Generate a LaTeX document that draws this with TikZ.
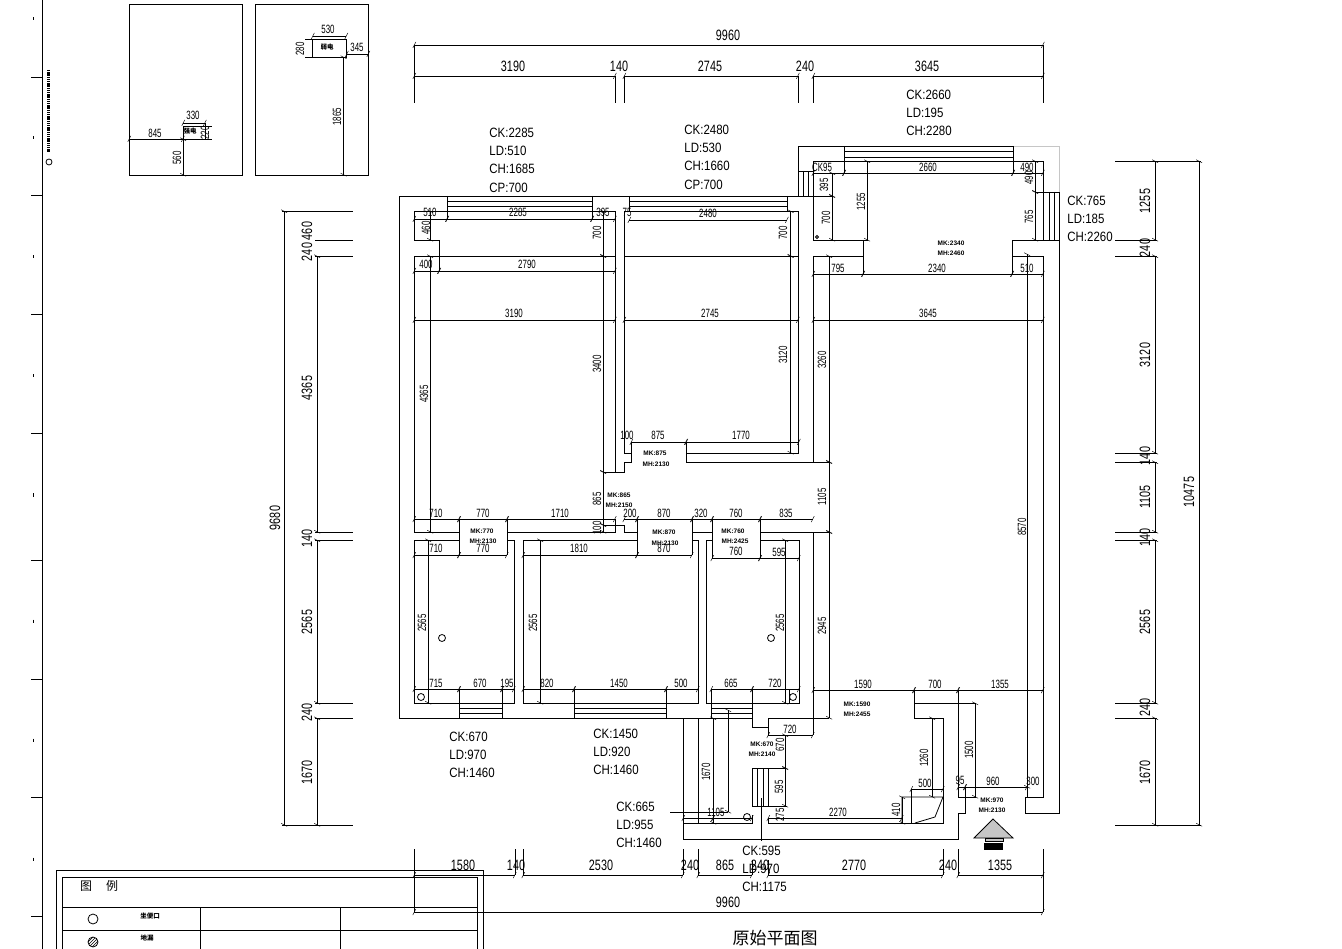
\documentclass[tikz,border=0pt]{standalone}
\usepackage{fontspec}
\setmainfont{Liberation Sans}
\newfontfamily\cadL[FakeStretch=.72]{Liberation Sans}
\newfontfamily\cadS[FakeStretch=.66]{Liberation Sans}
\newfontfamily\cadW[FakeStretch=.85]{Liberation Sans}
\newfontfamily\cjkfont{Noto Sans CJK SC}
\usetikzlibrary{arrows.meta, patterns}
\newcommand{\hdim}[2]{\foreach \xa/\xb in {#2} \draw[dimn] (\xa,#1) -- (\xb,#1);}
\newcommand{\vdim}[2]{\foreach \ya/\yb in {#2} \draw[dimn] (#1,\ya) -- (#1,\yb);}
\begin{document}
\begin{tikzpicture}[
    x=1pt, y=-1pt,
    line width=.8pt,
dimn/.style = {line width=.7pt, {Bar[width=6pt,slant=.5,line width=.5pt]}-{Bar[width=6pt,slant=.5,line width=.5pt]}},
ext/.style = {line width=.7pt},
txtL/.style = {font=\cadL\fontsize{15}{15}\selectfont, inner sep=0pt},
txtS/.style = {font=\cadS\fontsize{12}{12}\selectfont, inner sep=0pt},
txtM/.style = {font=\bfseries\fontsize{6.5}{6.5}\selectfont, inner sep=0pt},
txtW/.style = {font=\cadW\fontsize{13.5}{18.3}\selectfont, inner sep=0pt, align=left, anchor=west},
cjk/.style = {font=\cjkfont\bfseries\fontsize{6.5}{6.5}\selectfont, inner sep=0pt}
                        ]
\useasboundingbox (0,0) rectangle (1342,949);
\fill[white] (0,0) rectangle (1342,949);
% sheet edge
\draw (42,0) -- (42,949);
\foreach \ty in {77,195,314,433,560,679,797,916} \draw (31,\ty) -- (42,\ty);
\foreach \ty in {19,138,257,376,495,621,740,859} \draw (33,\ty-1.5) -- (33,\ty+1.5);
\draw[line width=3pt, dash pattern=on 1.5pt off .7pt] (48,70) -- (48,152);
\draw (49,162) circle (3);
% small elevations
\draw (129,4) rectangle (242.5,175);
\draw (255.5,4) rectangle (368.5,175);
\hdim{139}{129/183}
\vdim{183}{139/175}
\hdim{123}{183/205}
\draw (183,139) -- (183,126) -- (212,126) (183,139) -- (212,139) (205,123) -- (205,139);
\draw (312.5,39) rectangle (346.5,57);
\hdim{36}{312.5/346.5}
\hdim{54}{346.5/368.5}
\vdim{343.5}{57/175}
\draw (305,39) -- (312,39) (305,57) -- (312,57);
\node[cjk] (el1) at (190,131) {强电};
\node[cjk] (el2) at (327,47) {弱电};
% walls
\draw (813,196) -- (399,196) -- (399,718) -- (752,718);
\draw (1013,146) -- (798,146) -- (798,196);
\draw[gray!45] (1013,146) -- (1059,146) -- (1059,192);
\draw (1035,192) -- (1059,192) -- (1059,813) -- (1025,813) -- (1025,797) -- (1043,797) -- (1043,256)
    -- (1012,256) -- (1012,240) -- (1059,240);
\draw (1043,240) -- (1043,161) -- (813,161) -- (813,240) -- (868,240);
\draw (863,240) -- (863,256) -- (813,256) -- (813,462) -- (686,462) -- (686,453) -- (798,453)
    -- (798,211) -- (624,211) -- (624,453) -- (631,453) -- (631,462) -- (624,462) -- (624,472)
    -- (615,472) -- (615,211) -- (414,211) -- (414,240) -- (439,240) -- (439,256) -- (414,256)
    -- (414,532) -- (459,532) -- (459,540) -- (414,540) -- (414,703) -- (514,703) -- (514,540)
    -- (507,540) -- (507,532) -- (615,532) -- (615,519);
\draw (615,525) -- (624,525) -- (624,532) -- (637,532) -- (637,540) -- (523,540) -- (523,703)
    -- (698,703) -- (698,540) -- (692,540) -- (692,532) -- (712,532) -- (712,540) -- (706,540)
    -- (706,703) -- (799,703) -- (799,540) -- (760,540) -- (760,532) -- (813,532) -- (813,735);
\draw (813,718) -- (768,718) -- (768,735);
\draw (752,703) -- (752,727) -- (768,727);
\draw (683,718) -- (683,839) -- (958,839) -- (958,813) -- (965,813) -- (965,787);
\draw (698,718) -- (698,823) (683,823) -- (752,823) -- (752,815);
\draw (752,806) -- (752,768) -- (768,768) -- (768,806) -- (752,806);
\draw (768,818) -- (768,823) -- (943,823) -- (943,718) -- (914,718) -- (914,703) -- (975,703) -- (975,797) -- (958,797) -- (958,690);
\draw (414,256) -- (615,256) (624,256) -- (798,256);
% windows
\foreach \xa/\xb in {447/592,629/787} \draw (\xa,196) -- (\xa,211) (\xb,196) -- (\xb,211)
    (\xa,201) -- (\xb,201) (\xa,206) -- (\xb,206);
\foreach \xa/\xb in {459/502,574/666,711/752} \draw (\xa,703) -- (\xa,718) (\xb,703) -- (\xb,718)
    (\xa,708) -- (\xb,708) (\xa,713) -- (\xb,713);
\draw (844,146) -- (844,161) (1013,146) -- (1013,161) (844,151) -- (1013,151) (844,157) -- (1013,157);
\draw (798,171) -- (813,171) (803,171) -- (803,196) (808,171) -- (808,196);
\draw (1035,192) -- (1035,240) (1049,192) -- (1049,240) (1054,192) -- (1054,240);
\draw (757,768) -- (757,806) (763,768) -- (763,806);
% pipes and fittings
\foreach \px/\py/\rr in {442/638/3.5,771/638/3.5,421/697/3.5,793/697/3.5,747/817/3.5,817/237/1.5} \draw (\px,\py) circle (\rr);
\draw (414,689) -- (414,703) (789,689) -- (789,703);
\draw (902,823) -- (902,797) -- (943,797) -- (935,817) -- (915,823);
\draw (911,790) -- (911,823);
% dimensions, top and bottom
\hdim{45}{414/1043}
\hdim{76}{414/615,624/798,813/1043}
\foreach \px in {414,1043} \draw[ext] (\px,45) -- (\px,103);
\foreach \px in {615,624,798,813} \draw[ext] (\px,76) -- (\px,103);
\hdim{875}{414/515,523/683,698/752,768/943,958/1043}
\hdim{912}{414/1043}
\foreach \px in {414,1043} \draw[ext] (\px,849) -- (\px,912);
\foreach \px in {515,523,683,698,943,958} \draw[ext] (\px,849) -- (\px,875);
\draw[ext] (752,860) -- (752,875) (768,860) -- (768,875);
% dimensions, left and right
\vdim{284}{211/825}
\vdim{317}{256/532,540/703,718/825}
\foreach \py in {211,825} \draw[ext] (282,\py) -- (353,\py);
\foreach \py in {240,256,532,540,703,718} \draw[ext] (315,\py) -- (353,\py);
\vdim{1199}{161/825}
\vdim{1155}{161/240,256/453,462/532,540/703,718/825}
\foreach \py in {161} \draw[ext] (1115,\py) -- (1201,\py);
\draw[ext] (1115,825) -- (1201,825);
\foreach \py in {240,256,453,462,532,540,703,718} \draw[ext] (1115,\py) -- (1157,\py);
% dimensions, inside the rooms
\hdim{219}{414/447,447/592,592/615}
\hdim{220}{629/787}
\vdim{430}{211/240,256/532}
\hdim{271}{414/439,439/615}
\draw[ext] (439,256) -- (439,271) (447,211) -- (447,219) (592,211) -- (592,219);
\hdim{320}{414/615,624/798,813/1043}
\vdim{603}{211/256,256/472,472/525,525/532}
\vdim{790.5}{211/256,256/453}
\draw[ext] (603,472) -- (615,472) (603,525) -- (615,525);
\hdim{442}{631/686,686/799}
\draw[ext] (631,442) -- (631,453) (686,442) -- (686,453);
\hdim{519}{414/459,459/507,507/615,624/637,637/692,692/712,712/760,760/813}
\hdim{555}{414/459,459/507,523/637,637/692}
\hdim{558}{712/760,760/799}
\foreach \px/\yb in {459/555,507/555,637/555,692/555,712/558,760/558} \draw[ext] (\px,519) -- (\px,\yb);
\vdim{428}{540/703}
\vdim{540}{540/703}
\vdim{785}{540/703}
\hdim{689}{414/459,459/502,502/514,523/574,574/666,666/698,711/752,752/799}
\foreach \px in {459,502,574,666,711,752} \draw[ext] (\px,689) -- (\px,703);
\vdim{829}{256/462,462/532,532/718}
\draw[ext] (813,462) -- (829,462) (813,532) -- (829,532) (813,718) -- (829,718) (813,256) -- (829,256);
% dimensions, balcony
\hdim{173}{813/844,844/1013,1013/1043}
\draw[ext] (844,161) -- (844,173) (1013,161) -- (1013,173);
\vdim{832}{173/196,196/240}
\draw[ext] (813,196) -- (833,196);
\vdim{867}{161/240}
\vdim{1035}{161/192,192/240}
\hdim{274}{813/863,863/1012,1012/1043}
\draw[ext] (863,256) -- (863,274) (1012,256) -- (1012,274);
\vdim{1027}{254/787}
% dimensions, kitchen side
\hdim{735}{768/813}
\vdim{785}{735/768,768/806}
\draw[ext] (768,768) -- (785,768) (768,806) -- (787,806);
\hdim{690}{813/914,914/958,958/1043}
\draw[ext] (914,690) -- (914,703);
\vdim{932}{718/797}
\vdim{975}{703/797}
\hdim{789}{911/943}
\vdim{902}{797/823}
\hdim{818}{683/713,713/752,768/902}
\vdim{713}{718/823}
\vdim{728}{710/812}
\draw[ext] (670,812) -- (728,812);
\hdim{787}{958/965,965/1027}
\draw[ext] (1027,787) -- (1027,797);
% leader of the kitchen window
\draw[ext] (761,798) -- (761,841);
% entrance mark
\draw[fill=gray!45] (993,819) -- (974,838) -- (1013,838) -- cycle;
\draw[fill=gray!45] (985,838) rectangle (1003,841);
\fill[black] (984,843) rectangle (1003,850);
% legend
\draw (56,870) -- (483,870) (56,870) -- (56,949) (483,870) -- (483,949);
\draw (62,949) -- (62,877) -- (477.5,877) -- (477.5,949);
\draw (62,907) -- (477.5,907) (62,930) -- (477.5,930);
\draw (200,907) -- (200,949) (340,907) -- (340,949);
\draw (93,919) circle (5);
\draw[pattern=north east lines] (93,942) circle (5);
\node[cjk, font=\cjkfont\fontsize{12}{12}\selectfont] (lg1) at (86,886) {图};
\node[cjk, font=\cjkfont\fontsize{12}{12}\selectfont] (lg2) at (112,886) {例};
\node[cjk] (lg3) at (150,916) {坐便口};
\node[cjk] (lg4) at (147,938) {地漏};
\node[inner sep=0pt, font=\cjkfont\fontsize{17}{17}\selectfont] (title) at (775,938) {原始平面图};
% large dimension texts
\foreach \px/\py/\tx in {728/35/9960,513/66/3190,619/66/140,710/66/2745,805/66/240,927/66/3645,
    463/865/1580,516/865/140,601/865/2530,690/865/240,725/865/865,760/865/240,854/865/2770,948/865/240,1000/865/1355,728/902/9960}
    \node[txtL] at (\px,\py) {\tx};
\foreach \px/\py/\tx in {307/231/460,307/252/240,307/388/4365,307/538/140,307/622/2565,307/712/240,307/772/1670,275/518/9680,
    1145/201/1255,1145/248/240,1145/355/3120,1145/456/140,1145/497/1105,1145/537/140,1145/622/2565,1145/707/240,1145/772/1670,1189/492/10475}
    \node[txtL, rotate=90] at (\px,\py) {\tx};
% small dimension texts
\foreach \px/\py/\tx in {155/133/845,193/115/330,328/29/530,357/47/345,
    430/212/510,518/212/2285,603/212/395,627/212/75,708/213/2480,426/264/400,527/264/2790,
    514/313/3190,710/313/2745,928/313/3645,627/435/100,658/435/875,741/435/1770,
    436/513/710,483/513/770,560/513/1710,630/513/200,664/513/870,701/513/320,736/513/760,786/513/835,
    436/548/710,483/548/770,579/548/1810,664/548/870,736/551/760,779/552/595,
    436/683/715,480/683/670,507/683/195,547/683/820,619/683/1450,681/683/500,731/683/665,775/683/720,
    790/729/720,716/812/1105,838/812/2270,925/783/500,960/780/95,993/781/960,1033/781/300,
    863/684/1590,935/684/700,1000/684/1355,
    822/167/CK95,928/167/2660,1027/167/490,838/268/795,937/268/2340,1027/268/510}
    \node[txtS] at (\px,\py) {\tx};
\foreach \px/\py/\tx in {177/158/560,205/133/220,300/49/280,337/117/1865,
    426/228/460,597/233/700,783/233/700,597/364/3400,424/394/4365,783/355/3120,822/360/3260,822/497/1105,822/626/2945,1022/527/8570,
    597/499/865,597/528/100,422/623/2565,533/623/2565,780/623/2565,780/745/670,706/772/1670,779/787/595,780/815/275,
    924/758/1260,896/810/410,969/750/1500,
    824/185/395,826/218/700,861/202/1255,1029/178/490,1029/217/765}
    \node[txtS, rotate=90] at (\px,\py) {\tx};
% door sizes
\foreach \px/\py/\tx in {951/243/MK:2340,951/253/MH:2460,655/453/MK:875,656/464/MH:2130,619/495/MK:865,619/505/MH:2150,
    482/531/MK:770,483/541/MH:2130,664/532/MK:870,665/543/MH:2130,733/531/MK:760,735/541/MH:2425,
    857/704/MK:1590,857/714/MH:2455,762/744/MK:670,762/754/MH:2140,992/800/MK:970,992/810/MH:2130}
    \node[txtM] at (\px,\py) {\tx};
% window sizes
\node[txtW] (w1) at (489,160) {CK:2285\\LD:510\\CH:1685\\CP:700};
\node[txtW] (w2) at (684,157) {CK:2480\\LD:530\\CH:1660\\CP:700};
\node[txtW] (w3) at (906,113) {CK:2660\\LD:195\\CH:2280};
\node[txtW] (w4) at (1067,219) {CK:765\\LD:185\\CH:2260};
\node[txtW] (w5) at (449,755) {CK:670\\LD:970\\CH:1460};
\node[txtW] (w6) at (593,752) {CK:1450\\LD:920\\CH:1460};
\node[txtW] (w7) at (616,825) {CK:665\\LD:955\\CH:1460};
\node[txtW] (w8) at (742,869) {CK:595\\LD:970\\CH:1175};
\end{tikzpicture}
\end{document}
